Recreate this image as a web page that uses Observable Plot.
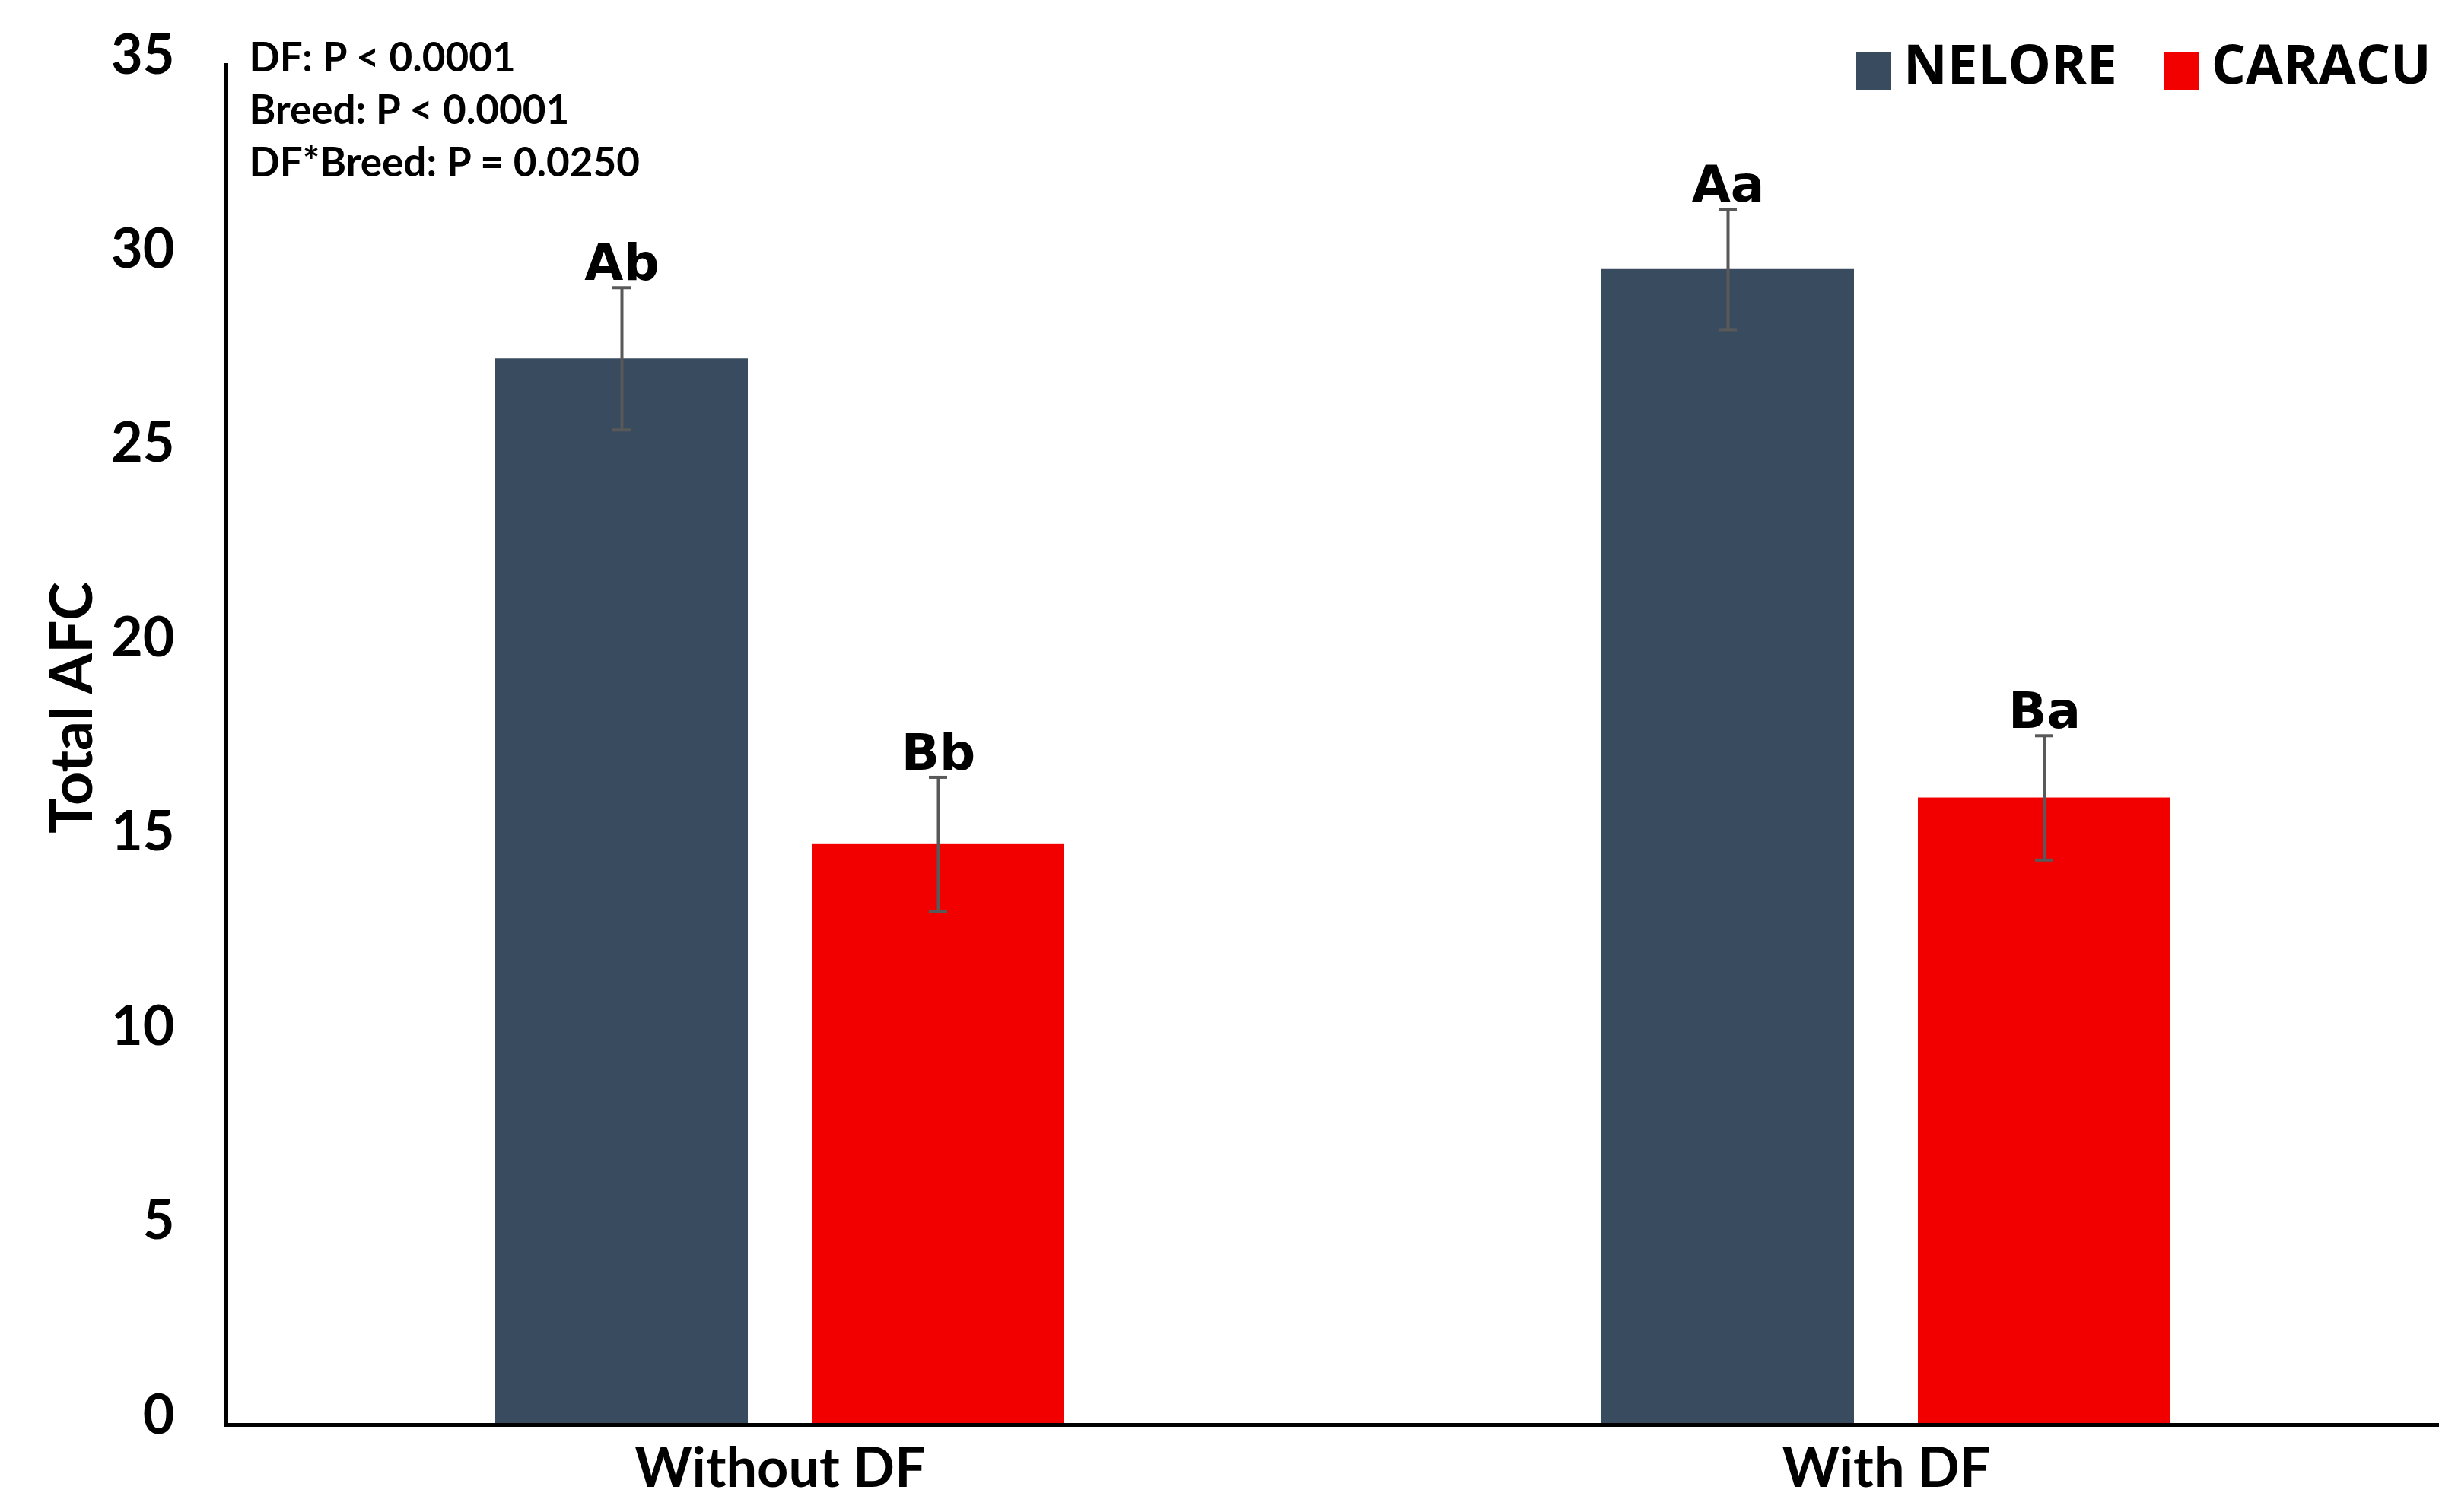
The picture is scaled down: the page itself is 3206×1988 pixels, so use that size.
<!DOCTYPE html>
<html>
<head>
<meta charset="utf-8">
<script src="https://cdn.jsdelivr.net/npm/d3@7"></script>
<script src="https://cdn.jsdelivr.net/npm/@observablehq/plot@0.6"></script>
<style>
  html, body { margin: 0; padding: 0; background: #fff; }
  #wrap { position: relative; width: 3206px; height: 1988px; overflow: hidden; }
  #legend { position: absolute; left: 2440px; top: 34px; display: flex; align-items: center;
            font-family: "Open Sans", sans-serif; font-weight: 700; font-size: 71px; color: #000; }
  #legend .item { display: flex; align-items: center; margin-right: 62px; }
  #legend .sw { width: 46px; height: 50px; margin-right: 16px; margin-top: 20px; }
</style>
</head>
<body>
<div id="wrap"><div id="legend"></div></div>
<script>
// ---- data ----
const groups = ["Without DF", "With DF"];
const breeds = ["NELORE", "CARACU"];
const breedColors = ["#394b5f", "#f20000"];
const neloreMeans = [27.4, 29.7];
const caracuMeans = [14.9, 16.1];
const neloreErr = [1.83, 1.55];
const caracuErr = [1.73, 1.6];
const neloreLetters = ["Ab", "Aa"];
const caracuLetters = ["Bb", "Ba"];
const statLines = ["DF: P < 0.0001", "Breed: P < 0.0001", "DF*Breed: P = 0.0250"];
const yTicks = [0, 5, 10, 15, 20, 25, 30, 35];
const yLabel = "Total AFC";

const rows = groups.flatMap((g, i) => [
  {group: g, breed: breeds[0], value: neloreMeans[i], err: neloreErr[i], letter: neloreLetters[i]},
  {group: g, breed: breeds[1], value: caracuMeans[i], err: caracuErr[i], letter: caracuLetters[i]}
]);
const firstGroup = [{group: groups[0]}];

const W = 3206, H = 1988, ML = 298, MR = 0;
const facetWidth = (W - ML - MR) / groups.length;

const chart = Plot.plot({
  width: W,
  height: H,
  marginTop: 83,
  marginBottom: 117,
  marginLeft: ML,
  marginRight: MR,
  style: {fontFamily: "Lato, sans-serif", fontWeight: "bold", fontSize: "68px", color: "#000", background: "transparent"},
  fx: {domain: groups, padding: 0, label: null},
  x: {domain: breeds, paddingInner: 0.2014, paddingOuter: 0.8442, axis: null},
  y: {domain: [0, 35], axis: null},
  color: {domain: breeds, range: breedColors},
  marks: [
    Plot.barY(rows, {fx: "group", x: "breed", y: "value", fill: "breed"}),
    Plot.ruleX(rows, {fx: "group", x: "breed", y1: d => d.value - d.err, y2: d => d.value + d.err, stroke: "#595959", strokeWidth: 4}),
    Plot.tickY(rows, {fx: "group", x: "breed", y: d => d.value + d.err, stroke: "#595959", strokeWidth: 4, insetLeft: 154, insetRight: 154}),
    Plot.tickY(rows, {fx: "group", x: "breed", y: d => d.value - d.err, stroke: "#595959", strokeWidth: 4, insetLeft: 154, insetRight: 154}),
    Plot.text(rows, {fx: "group", x: "breed", y: d => d.value + d.err, text: "letter", lineAnchor: "bottom", dy: -10,
      fontFamily: "DejaVu Sans, sans-serif", fontWeight: "bold", fontSize: 66, fill: "#000"}),
    // x axis line
    Plot.ruleY([0], {stroke: "#000", strokeWidth: 5, dy: 2}),
    // y axis line (left edge of the first panel)
    Plot.rect(firstGroup, {fx: "group", y1: 0, y2: 35, fill: "#000", insetLeft: -3, insetRight: facetWidth - 2, insetBottom: -5}),
    Plot.axisY({ticks: yTicks, tickSize: 0, tickPadding: 69, dy: -10, label: null, fontSize: 72}),
    Plot.axisFx({anchor: "bottom", tickSize: 0, tickPadding: 32, label: null, fontSize: 72}),
    Plot.text([{group: groups[0], t: yLabel}], {fx: "group", text: "t", frameAnchor: "left", rotate: -90,
      dx: -202, dy: -47, fontSize: 77, textAnchor: "middle", lineAnchor: "middle", fill: "#000"}),
    Plot.text([{group: groups[0], t: statLines.join("\n")}], {fx: "group", text: "t", frameAnchor: "top-left",
      textAnchor: "start", lineAnchor: "top", dx: 29, dy: -38, fontSize: 53, lineHeight: 1.3, fill: "#000"})
  ]
});

document.getElementById("wrap").prepend(chart);

const legend = document.getElementById("legend");
breeds.forEach((b, i) => {
  const item = document.createElement("div");
  item.className = "item";
  const sw = document.createElement("div");
  sw.className = "sw";
  sw.style.background = breedColors[i];
  const lab = document.createElement("span");
  lab.textContent = b;
  item.append(sw, lab);
  legend.append(item);
});
</script>
</body>
</html>
